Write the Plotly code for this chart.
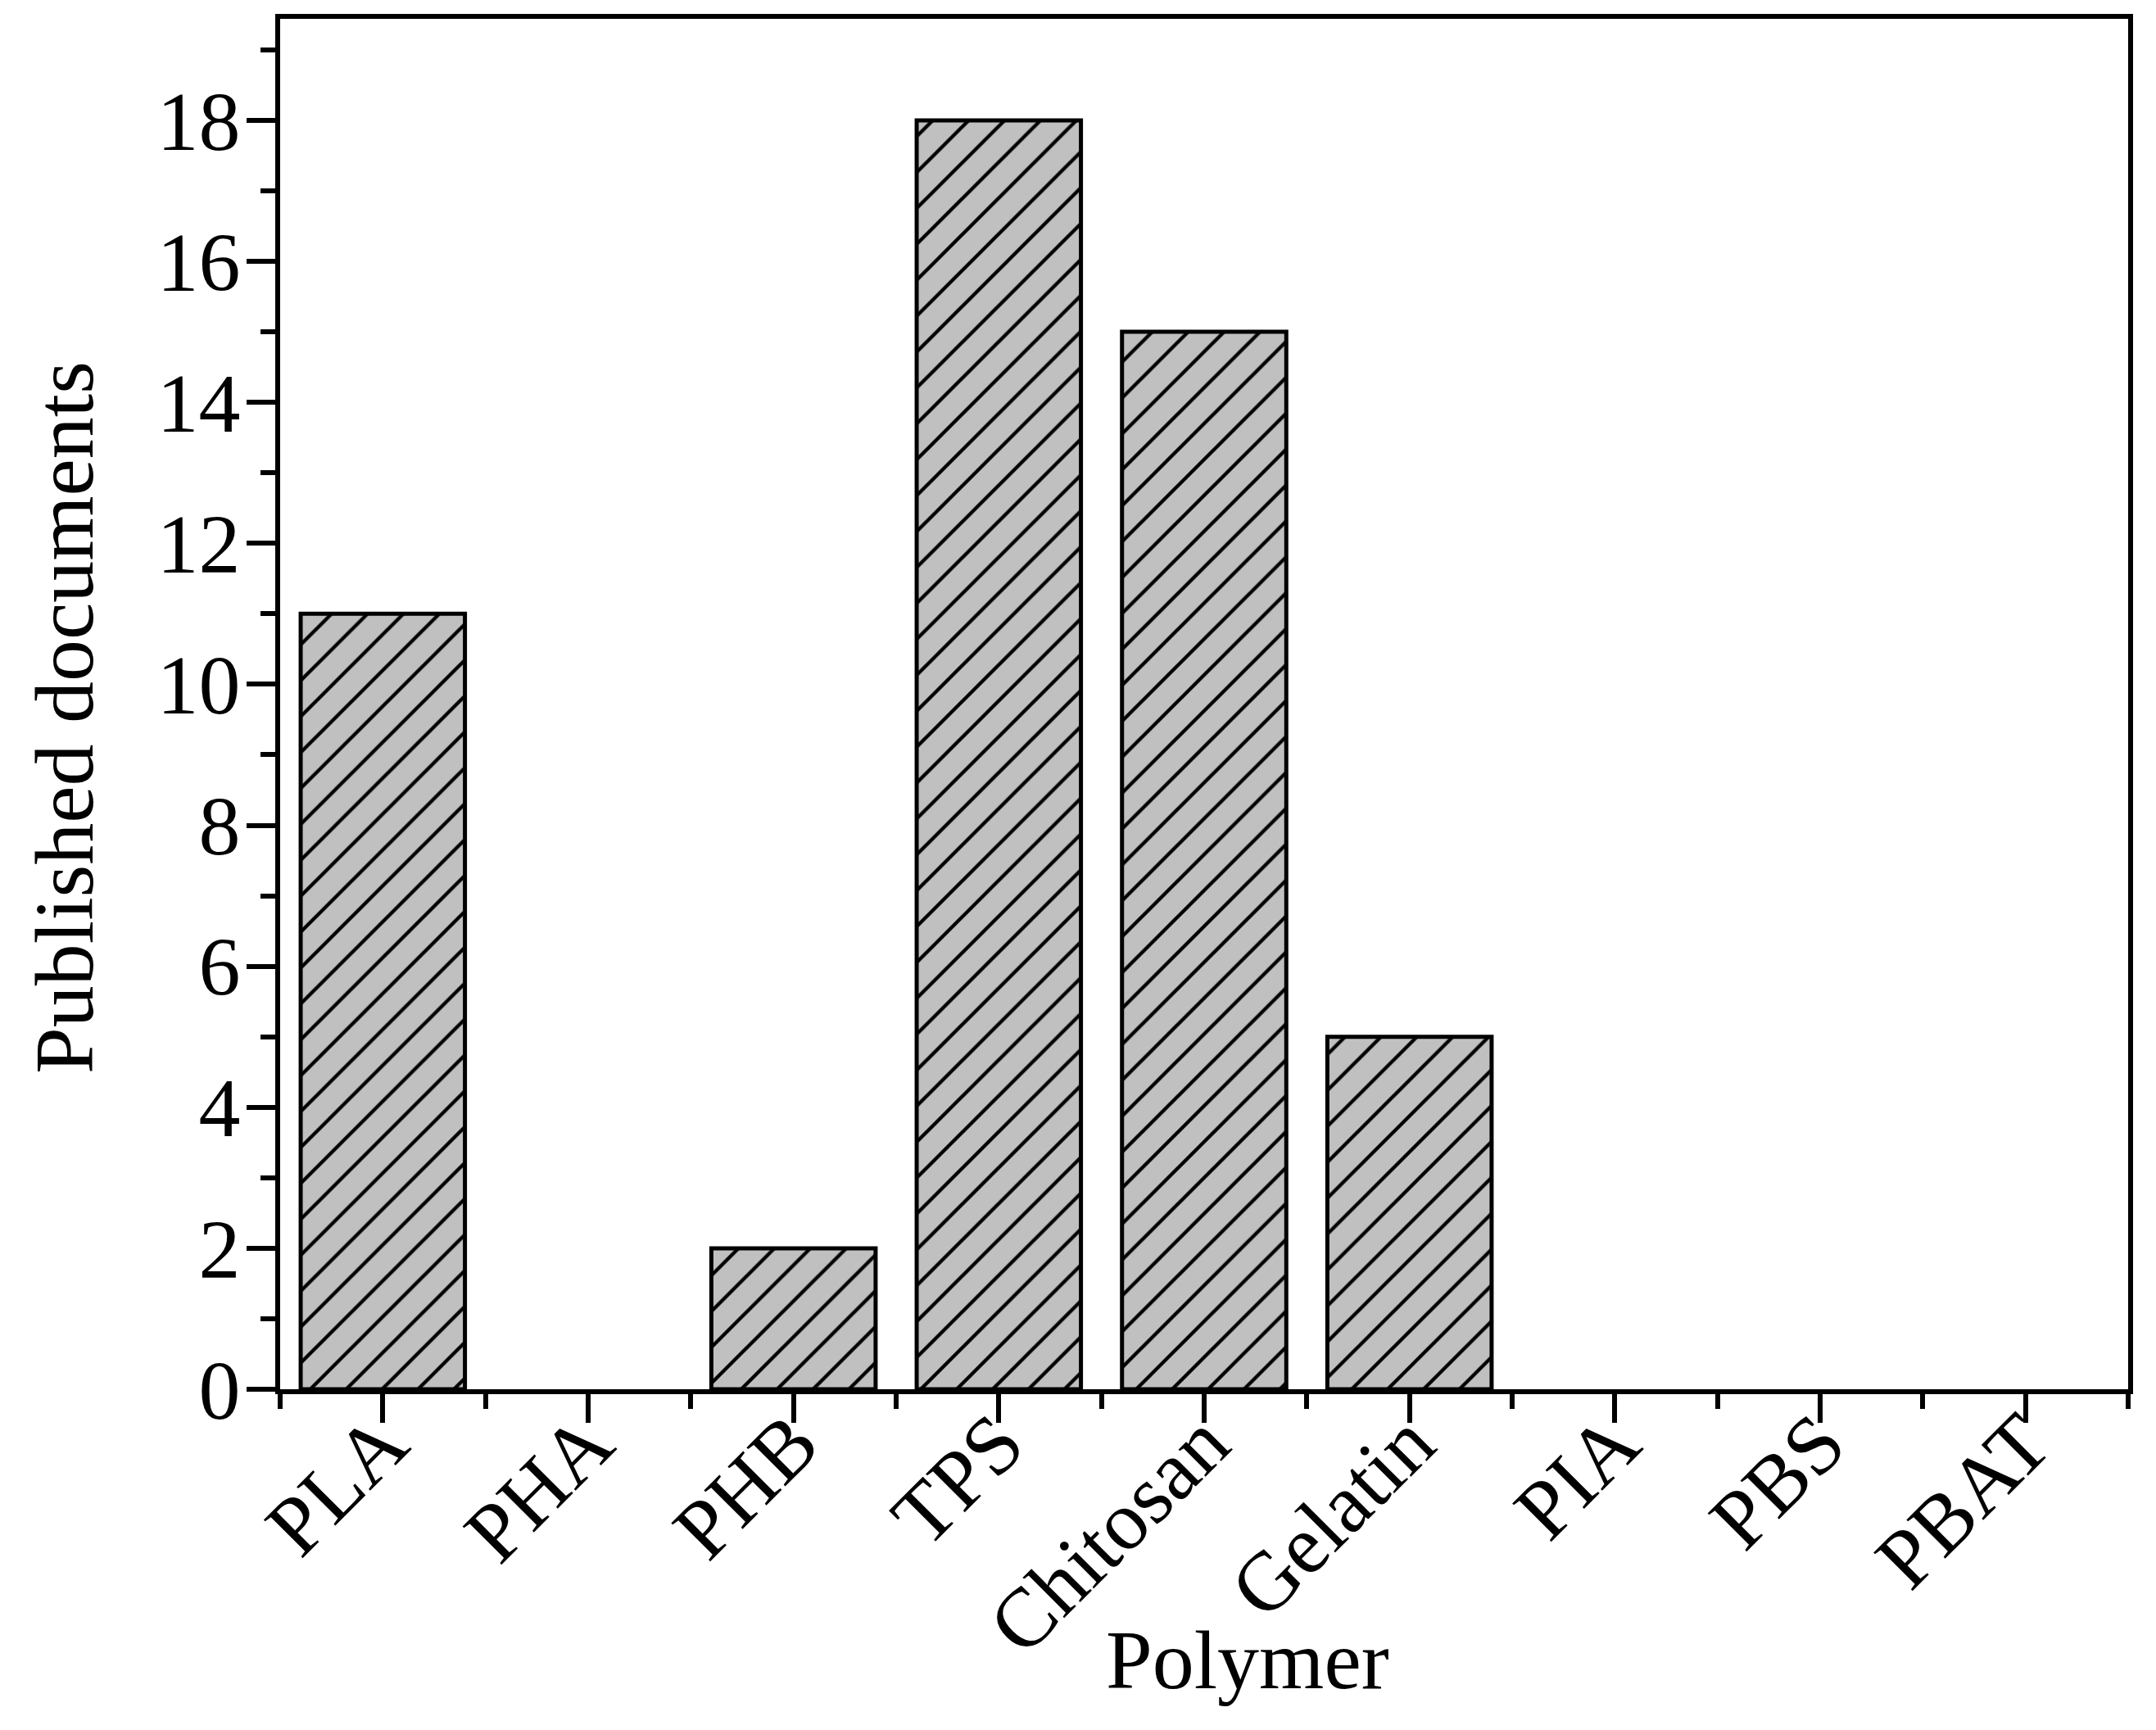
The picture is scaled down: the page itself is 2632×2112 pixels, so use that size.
import plotly.graph_objects as go

categories = ["PLA", "PHA", "PHB", "TPS", "Chitosan", "Gelatin", "PIA", "PBS", "PBAT"]
values = [11, 0, 2, 18, 15, 5, 0, 0, 0]
y_tick_vals = [0, 2, 4, 6, 8, 10, 12, 14, 16, 18]
x_title = "Polymer"
y_title = "Published documents"

FONT = "Liberation Serif, Times New Roman, serif"
W, H = 2632, 2112
OFF = 8  # page body margin
L, R, T, B = 342 - OFF, 34 + OFF, 17 - OFF, 416 + OFF
PW, PH = W - L - R, H - T - B

xpos = list(range(len(categories)))
yplot = [v if v else None for v in values]

fig = go.Figure()
fig.add_trace(go.Bar(
    x=xpos, y=yplot, width=0.8,
    marker=dict(
        color="#c0c0c0",
        line=dict(color="black", width=5),
        pattern=dict(shape="/", bgcolor="#c0c0c0", fgcolor="black",
                     size=31, solidity=0.14, fillmode="replace"),
    ),
    showlegend=False,
))


def px_to_paper_x(px):
    return (px - OFF - L) / PW


def px_to_paper_y(py):
    return 1 - (py - OFF - T) / PH


fig.update_layout(
    width=W, height=H,
    margin=dict(l=L, r=R, t=T, b=B, pad=0),
    paper_bgcolor="white", plot_bgcolor="white",
    font=dict(family=FONT, color="black", size=102),
    xaxis=dict(
        range=[-0.5, len(categories) - 0.5],
        tickmode="array", tickvals=xpos, ticktext=categories,
        tickangle=-45,
        ticks="outside", ticklen=35, tickwidth=6, tickcolor="black",
        minor=dict(tickmode="linear", tick0=-0.5, dtick=1, ticks="outside",
                   ticklen=18, tickwidth=6, tickcolor="black"),
        showline=True, linewidth=6, linecolor="black", mirror=True,
        showgrid=False, zeroline=False,
        tickfont=dict(family=FONT, size=102),
        ticklabelshift=0, ticklabelstandoff=-76,
    ),
    yaxis=dict(
        range=[0, 19.44],
        tickmode="array", tickvals=y_tick_vals,
        ticks="outside", ticklen=35, tickwidth=6, tickcolor="black",
        minor=dict(tickmode="linear", tick0=0, dtick=1, ticks="outside",
                   ticklen=18, tickwidth=6, tickcolor="black"),
        showline=True, linewidth=6, linecolor="black", mirror=True,
        showgrid=False, zeroline=False,
        tickfont=dict(family=FONT, size=102),
        ticklabelstandoff=-13,
    ),
    annotations=[
        dict(text=x_title, xref="paper", yref="paper",
             x=px_to_paper_x(1523), y=px_to_paper_y(2028),
             xanchor="center", yanchor="middle", showarrow=False,
             font=dict(family=FONT, size=102)),
        dict(text=y_title, xref="paper", yref="paper",
             x=px_to_paper_x(79), y=px_to_paper_y(873),
             xanchor="center", yanchor="middle", showarrow=False, textangle=-90,
             font=dict(family=FONT, size=102)),
    ],
)

fig.write_html("out.html")
